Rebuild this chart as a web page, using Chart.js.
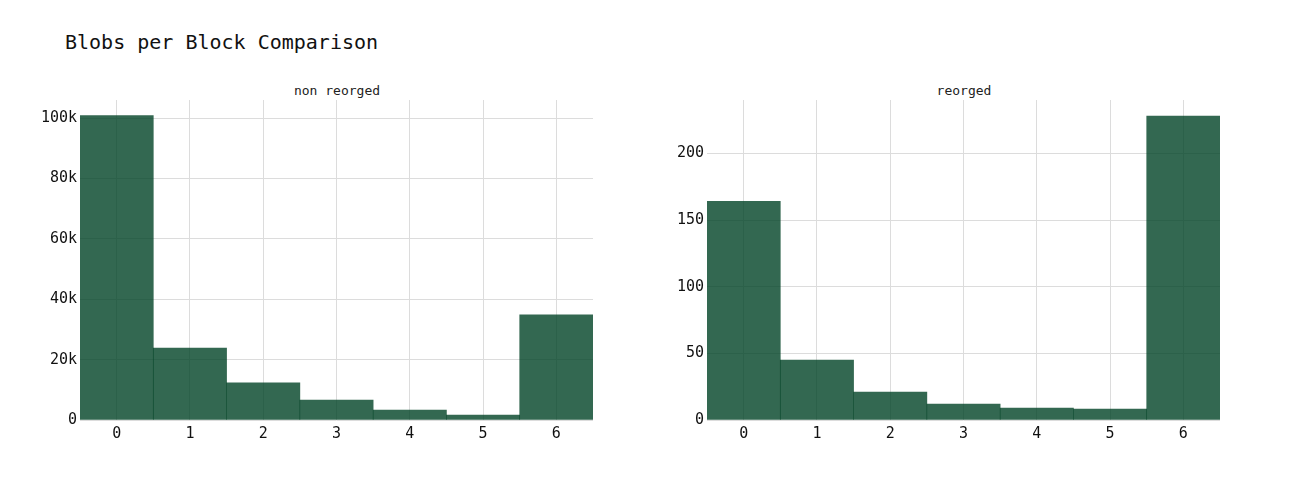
<!DOCTYPE html>
<html>
<head>
<meta charset="utf-8">
<script src="https://cdn.jsdelivr.net/npm/chart.js@4"></script>
<style>
  body { margin: 0; background: #fff; font-family: "DejaVu Sans Mono", monospace; }
  #wrap { position: relative; width: 1300px; height: 500px; }
  .title { position: absolute; left: 65px; top: 30px; font-size: 20px; color: #111; }
  .sub { position: absolute; top: 83px; font-size: 13px; color: #222; transform: translateX(-50%); }
  .box { position: absolute; top: 0; width: 650px; height: 500px; }
</style>
</head>
<body>
<div id="wrap">
  <div class="title">Blobs per Block Comparison</div>
  <div class="sub" style="left:337px">non reorged</div>
  <div class="sub" style="left:964px">reorged</div>
  <div class="box" style="left:0"><canvas id="left"></canvas></div>
  <div class="box" style="left:627px"><canvas id="right"></canvas></div>
</div>
<script>
// blobs per block buckets
const blobCounts = ["0", "1", "2", "3", "4", "5", "6"]
// number of blocks
const nonReorged = [100800, 23800, 12300, 6600, 3300, 1650, 34800]
const reorged = [164, 45, 21, 12, 9, 8.2, 228]
// y tick values
const nonReorgedTicks = [0, 20000, 40000, 60000, 80000, 100000]
const reorgedTicks = [0, 50, 100, 150, 200]

const barColor = "rgba(0, 66, 37, 0.8)"
const gridColor = "#dcdcdc"
const mono = "'DejaVu Sans Mono', monospace"

function makeChart(id, values, yMax, tickVals, fmt) {
  const ctx = document.getElementById(id).getContext("2d")
  return new Chart(ctx, {
    type: "bar",
    data: {
      labels: blobCounts,
      datasets: [{ data: values, backgroundColor: barColor, borderWidth: 0 }],
    },
    options: {
      responsive: false,
      animation: false,
      categoryPercentage: 1,
      barPercentage: 1,
      layout: { padding: { left: 0, right: 57, top: 100, bottom: 0 } },
      plugins: { legend: { display: false }, tooltip: { enabled: false } },
      scales: {
        x: {
          offset: true,
          grid: { offset: false, color: gridColor, drawTicks: false },
          border: { display: false },
          ticks: { padding: 5, color: "#111", font: { family: mono, size: 15 } },
          afterFit: (s) => { s.height = 80 },
        },
        y: {
          min: 0,
          max: yMax,
          grid: { color: gridColor, drawTicks: false },
          border: { display: false },
          ticks: {
            padding: 3,
            color: "#111",
            font: { family: mono, size: 15 },
            callback: fmt,
          },
          afterBuildTicks: (s) => { s.ticks = tickVals.map((v) => ({ value: v })) },
          afterFit: (s) => { s.width = 80 },
        },
      },
    },
  })
}

function setSize(id) {
  const c = document.getElementById(id)
  c.width = 650
  c.height = 500
  c.style.width = "650px"
  c.style.height = "500px"
}
setSize("left")
setSize("right")

makeChart("left", nonReorged, 106000, nonReorgedTicks, (v) => (v === 0 ? "0" : v / 1000 + "k"))
makeChart("right", reorged, 240, reorgedTicks, (v) => v)
</script>
</body>
</html>
